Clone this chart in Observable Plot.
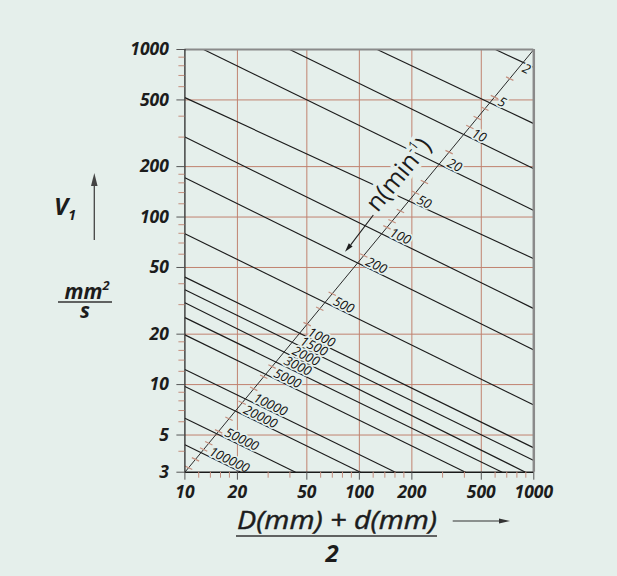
<!DOCTYPE html>
<html><head><meta charset="utf-8">
<script src="https://cdn.jsdelivr.net/npm/d3@7"></script>
<script src="https://cdn.jsdelivr.net/npm/@observablehq/plot@0.6"></script>
<style>
html,body{margin:0;padding:0;background:#e5efeb;}
#chart{width:617px;height:576px;position:relative;overflow:hidden;}
svg{display:block;}
</style></head><body><div id="chart"></div>
<script>
// ---- data ----
const nValues    = [2, 5, 10, 20, 50, 100, 200, 500, 1000, 1500, 2000, 3000, 5000, 10000, 20000, 50000, 100000];
const lineStartDm = [603, 126.6, 39.9, 12.8, 10, 10, 10, 10, 10, 10, 10, 10, 10, 10, 10, 10, 10];
const lineStartV  = [1000, 1000, 1000, 1000, 516, 300, 171.7, 79.5, 43.8, 36.8, 30.8, 25.1, 19.8, 12.3, 9.75, 6.3, 4.37];
const lineEndDm   = [1000, 1000, 1000, 1000, 1000, 1000, 1000, 1000, 1000, 1000, 896, 659, 406, 161, 101.5, 43.1, 21];
const lineEndV    = [782, 361, 194, 109.5, 56.4, 28.4, 16.1, 7.55, 4.19, 3.52, 3, 3, 3, 3, 3, 3, 3];
const nScaleDm = [10, 1000];
const nScaleV  = [3, 1000];
const nScaleTickDm = [10.5, 11.5, 12.8, 13.7, 15.6, 17.9, 21.3, 24.8, 28.3, 31.6, 50.2, 59.3, 69.9, 106, 144, 154, 172, 210, 236, 327, 430, 474, 524, 595, 728];
const xTickValues = [10, 20, 50, 100, 200, 500, 1000];
const yTickValues = [3, 5, 10, 20, 50, 100, 200, 500, 1000];
const xGridValues = [20, 50, 100, 200, 500];
const yGridValues = [5, 10, 20, 50, 100, 200, 500];
const xMinorTicks = [12, 14, 16, 18, 30, 40, 60, 70, 80, 90, 120, 140, 160, 180, 300, 400, 600, 700, 800, 900];
const yMinorTicks = [4, 6, 7, 8, 9, 12, 14, 16, 18, 30, 40, 60, 70, 80, 90, 120, 140, 160, 180, 300, 400, 600, 700, 800, 900];

// ---- derived tables ----
const L = Math.log10;
const A1 = L(nScaleDm[0]), A2 = L(nScaleDm[1]), B1 = L(nScaleV[0]), B2 = L(nScaleV[1]);
const lines = nValues.map((n, i) => ({n, x1: lineStartDm[i], y1: lineStartV[i], x2: lineEndDm[i], y2: lineEndV[i]}));
function crossing(d) {
  const a1 = L(d.x1), b1 = L(d.y1), dx1 = L(d.x2) - a1, dy1 = L(d.y2) - b1;
  const dx2 = A2 - A1, dy2 = B2 - B1;
  const den = dx1 * dy2 - dy1 * dx2;
  const t = ((A1 - a1) * dy2 - (B1 - b1) * dx2) / den;
  return {n: d.n, x: 10 ** (a1 + t * dx1), y: 10 ** (b1 + t * dy1)};
}
const labels = lines.map(crossing);
const onScale = dm => 10 ** (B1 + (L(dm) - A1) * (B2 - B1) / (A2 - A1));
const scaleTicks = nScaleTickDm.map(dm => {
  const v = onScale(dm);
  return {x1: dm * 10 ** -0.021, y1: v * 10 ** 0.0105, x2: dm * 10 ** 0.021, y2: v * 10 ** -0.0105};
});

const bg = "#e5efeb";
const gridColor = "#c0826f";
const minorColor = "#c48f7e";
const ink = "#1c1c1c";
const font = "'Open Sans', 'DejaVu Sans', sans-serif";
const tickText = {fontSize: 17.5, fontWeight: "bold", fontStyle: "italic", fill: ink, text: d => String(d)};

const plot = Plot.plot({
  width: 617, height: 576,
  marginLeft: 184.4, marginRight: 83.7, marginTop: 49, marginBottom: 104.3,
  x: {type: "log", domain: [10, 1000], label: null},
  y: {type: "log", domain: [3, 1000], label: null},
  style: {background: "transparent", fontFamily: font, overflow: "visible"},
  marks: [
    Plot.ruleX(xGridValues, {stroke: gridColor, strokeWidth: 1}),
    Plot.ruleY(yGridValues, {stroke: gridColor, strokeWidth: 1}),
    Plot.link(lines, {x1: "x1", y1: "y1", x2: "x2", y2: "y2", stroke: ink, strokeWidth: 1.15}),
    Plot.link([0], {x1: () => nScaleDm[0], y1: () => nScaleV[0], x2: () => nScaleDm[1], y2: () => nScaleV[1], stroke: "#2a2a2a", strokeWidth: 1}),
    Plot.link(scaleTicks, {x1: "x1", y1: "y1", x2: "x2", y2: "y2", stroke: minorColor, strokeWidth: 1.2}),
    Plot.text(labels.filter(d => d.n !== 2), {x: "x", y: "y", text: d => String(d.n), rotate: 26, textAnchor: "start", lineAnchor: "middle",
      dx: 9, dy: -2, fontSize: 13, fontStyle: "italic", fill: "#111", stroke: bg, strokeWidth: 3.5, paintOrder: "stroke"}),
    Plot.text(labels.filter(d => d.n === 2), {x: "x", y: "y", text: d => String(d.n), rotate: 26, textAnchor: "start", lineAnchor: "middle",
      dx: 0, dy: 5, fontSize: 13, fontStyle: "italic", fill: "#111", stroke: bg, strokeWidth: 3.5, paintOrder: "stroke"}),
    Plot.ruleY([1000], {stroke: "#8a8a8a", strokeWidth: 2}),
    Plot.ruleX([1000], {stroke: "#8a8a8a", strokeWidth: 2.5}),
    Plot.ruleX([10], {stroke: "#2a2a2a", strokeWidth: 1.3}),
    Plot.ruleY([3], {stroke: "#1a1a1a", strokeWidth: 1.5}),
    Plot.axisX(xMinorTicks, {tickSize: 6, stroke: minorColor, tickFormat: () => ""}),
    Plot.axisY(yMinorTicks, {tickSize: 6, stroke: minorColor, tickFormat: () => ""}),
    Plot.axisX(xTickValues, {tickSize: 8, stroke: "#555", tickFormat: () => ""}),
    Plot.axisY(yTickValues, {tickSize: 8, stroke: "#555", tickFormat: () => ""}),
    Plot.text(xTickValues, {x: d => d, y: () => yTickValues[0], dy: 20, textAnchor: "middle", lineAnchor: "middle", ...tickText}),
    Plot.text(yTickValues, {x: () => xTickValues[0], y: d => d, dx: -16, textAnchor: "end", lineAnchor: "middle", ...tickText})
  ]
});
document.getElementById("chart").appendChild(plot);

// ---- annotations (titles and arrows) ----
const svg = d3.select(plot);
const g = svg.append("g").attr("font-family", font).attr("fill", ink);

// n(min^-1) label along the n-scale, with a halo that breaks the lines
const nl = g.append("text").attr("transform", "translate(405,180) rotate(-50.5)")
  .attr("text-anchor", "middle").attr("font-size", 25)
  .attr("stroke", bg).attr("stroke-width", 8).attr("paint-order", "stroke").attr("stroke-linejoin", "round");
nl.append("tspan").text("n(min");
nl.append("tspan").attr("font-size", 13).attr("dy", -11).text("-1");
nl.append("tspan").attr("dy", 11).text(")");
g.append("line").attr("x1", 373.3).attr("y1", 215).attr("x2", 350.7).attr("y2", 244.8).attr("stroke", ink).attr("stroke-width", 1.1);
g.append("polygon").attr("points", "345,251.7 352.6,246.4 348.8,243.2").attr("fill", ink);

// y title: V1 with arrow, and mm^2/s
const v = g.append("text").attr("x", 65).attr("y", 215).attr("font-size", 24).attr("font-weight", "bold").attr("font-style", "italic");
v.append("tspan").text("V");
v.append("tspan").attr("font-size", 14).attr("dy", 5).text("1");
g.append("line").attr("x1", 94.3).attr("y1", 240).attr("x2", 94.3).attr("y2", 184).attr("stroke", "#444").attr("stroke-width", 1.3);
g.append("polygon").attr("points", "94.3,173 91,186 97.6,186").attr("fill", "#444");
const unit = g.append("text").attr("font-size", 21).attr("font-weight", "bold").attr("font-style", "italic").attr("text-anchor", "middle");
unit.append("tspan").attr("x", 87).attr("y", 298.5).text("mm");
unit.append("tspan").attr("font-size", 13).attr("dy", -9).text("2");
unit.append("tspan").attr("x", 85).attr("y", 318).text("s");
g.append("line").attr("x1", 58).attr("x2", 112).attr("y1", 302).attr("y2", 302).attr("stroke", "#333").attr("stroke-width", 1.3);

// x title: (D + d)/2 with arrow
g.append("text").attr("x", 337).attr("y", 529).attr("text-anchor", "middle").attr("font-size", 25).attr("font-style", "italic")
  .attr("textLength", 200).attr("lengthAdjust", "spacingAndGlyphs").attr("stroke", ink).attr("stroke-width", 0.45).text("D(mm) + d(mm)");
g.append("line").attr("x1", 236).attr("x2", 437).attr("y1", 536).attr("y2", 536).attr("stroke", "#333").attr("stroke-width", 1.5);
g.append("text").attr("x", 332).attr("y", 561.5).attr("text-anchor", "middle").attr("font-size", 24).attr("font-weight", "bold").attr("font-style", "italic").text("2");
g.append("line").attr("x1", 452.7).attr("x2", 502).attr("y1", 521).attr("y2", 521).attr("stroke", "#333").attr("stroke-width", 1.1);
g.append("polygon").attr("points", "510,521 499,518.6 499,523.4").attr("fill", "#333");
</script>
</body></html>
